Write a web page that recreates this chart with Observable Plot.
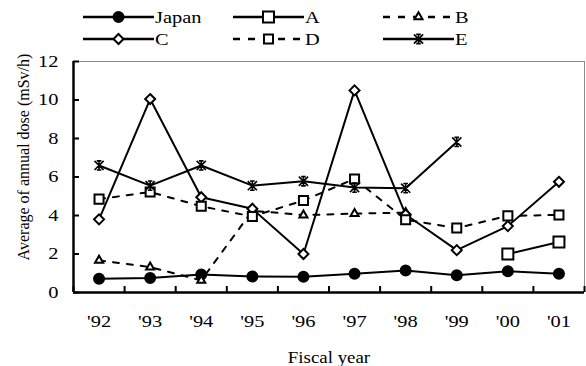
<!DOCTYPE html>
<html>
<head>
<meta charset="utf-8">
<script src="https://cdn.jsdelivr.net/npm/d3@7"></script>
<script src="https://cdn.jsdelivr.net/npm/@observablehq/plot@0.6"></script>
<style>
  body { margin: 0; background: #fff; }
  #wrap { position: relative; width: 586px; height: 366px; }
  #overlay { position: absolute; left: 0; top: 0; pointer-events: none; }
  #wrap svg text { font-family: "Liberation Serif", serif; }
</style>
</head>
<body>
<div id="wrap">
  <div id="chart"></div>
  <svg id="overlay" width="586" height="366"></svg>
</div>
<script>
// Fiscal years and their axis labels
const years = [1992, 1993, 1994, 1995, 1996, 1997, 1998, 1999, 2000, 2001];
const yearLabels = ["'92", "'93", "'94", "'95", "'96", "'97", "'98", "'99", "'00", "'01"];
const yTicks = [0, 2, 4, 6, 8, 10, 12];

// Average annual dose per site (null = no survey that year)
const japan   = [0.71, 0.75, 0.93, 0.83, 0.82, 0.98, 1.14, 0.89, 1.11, 0.98];
const seriesA = [null, null, null, null, null, null, null, null, 2.0, 2.62];
const seriesB = [1.67, 1.32, 0.63, 4.25, 4.02, 4.1, 4.15, null, null, null];
const seriesC = [3.8, 10.05, 4.95, 4.35, 2.0, 10.5, 4.05, 2.2, 3.45, 5.75];
const seriesD = [4.85, 5.22, 4.48, 3.95, 4.78, 5.9, 3.78, 3.35, 3.98, 4.03];
const seriesE = [6.6, 5.55, 6.6, 5.55, 5.78, 5.45, 5.42, 7.82, null, null];

// Star marker: an X crossed by a vertical stroke, with short caps
const starSymbol = {
  draw(ctx, size) {
    const r = Math.sqrt(size / Math.PI);
    ctx.moveTo(-r, -r); ctx.lineTo(r, r);
    ctx.moveTo(-r, r); ctx.lineTo(r, -r);
    ctx.moveTo(0, -r); ctx.lineTo(0, r);
    ctx.moveTo(-r * 0.5, -r); ctx.lineTo(r * 0.5, -r);
    ctx.moveTo(-r * 0.5, r); ctx.lineTo(r * 0.5, r);
  }
};

const series = [
  {name: "Japan", values: japan,   symbol: "circle",   r: 5,   fill: "#000", dash: null,  sw: 2},
  {name: "A",     values: seriesA, symbol: "square",   r: 6.2, fill: "#fff", dash: null,  sw: 2},
  {name: "B",     values: seriesB, symbol: "triangle", r: 3,   fill: "#fff", dash: "6,8", sw: 2},
  {name: "C",     values: seriesC, symbol: "diamond2", r: 4.5, fill: "#fff", dash: null,  sw: 2},
  {name: "D",     values: seriesD, symbol: "square",   r: 5.1, fill: "#fff", dash: "6,8", sw: 2},
  {name: "E",     values: seriesE, symbol: starSymbol, r: 4.6, fill: "none", dash: null,  sw: 1.6}
];

const rowsOf = s => years.map((year, i) => ({year, value: s.values[i]}));
const bounds = d3.range(years.length + 1).map(i => years[0] - 0.5 + i);

const marks = [];
for (const s of series) {
  marks.push(Plot.line(rowsOf(s), {
    x: "year", y: "value", stroke: "#000", strokeWidth: 2,
    strokeDasharray: s.dash
  }));
}
for (const s of series) {
  const rows = rowsOf(s).filter(d => d.value != null);
  marks.push(Plot.dot(rows, {
    x: "year", y: "value", symbol: () => s.symbol, r: s.r,
    fill: s.fill, stroke: "#000", strokeWidth: s.sw
  }));
}

const chart = Plot.plot({
  width: 586,
  height: 366,
  marginLeft: 73,
  marginRight: 2,
  marginTop: 61,
  marginBottom: 74,
  style: {fontFamily: "'Liberation Serif', serif", fontSize: "17px", color: "#000", background: "#fff"},
  symbol: {type: "identity"},
  x: {domain: [bounds[0], bounds[bounds.length - 1]]},
  y: {domain: [0, 12]},
  marks: [
    Plot.ruleY([12], {stroke: "#8a8a8a", strokeWidth: 1}),
    Plot.ruleX([bounds[bounds.length - 1]], {stroke: "#8a8a8a", strokeWidth: 1}),
    Plot.axisY({ticks: yTicks, tickSize: 0, tickPadding: 15, fontSize: 17, label: null}),
    Plot.axisY({ticks: yTicks, tickSize: -6, tickFormat: () => "", label: null, strokeWidth: 2}),
    Plot.axisX({ticks: years, tickSize: 0, tickPadding: 22, fontSize: 17,
      tickFormat: d => yearLabels[years.indexOf(d)],
      label: "Fiscal year", labelAnchor: "center", labelOffset: 70, labelArrow: "none"}),
    Plot.axisX({ticks: bounds, tickSize: -6, tickFormat: () => "", label: null, strokeWidth: 2}),
    Plot.ruleX([bounds[0]], {stroke: "#000", strokeWidth: 2.5}),
    Plot.ruleY([0], {stroke: "#000", strokeWidth: 2.5}),
    ...marks
  ]
});
document.getElementById("chart").appendChild(chart);

// The typeface runs wide horizontally; stretch the horizontal labels a little
function stretch(sel, factor) {
  sel.each(function () {
    if (!this.textContent) return;
    const w = this.getComputedTextLength();
    this.setAttribute("textLength", (w * factor).toFixed(1));
    this.setAttribute("lengthAdjust", "spacingAndGlyphs");
  });
}
const svg = d3.select(chart);
stretch(svg.selectAll("g[aria-label='x-axis tick label'] text, g[aria-label='y-axis tick label'] text"), 1.2);
stretch(svg.selectAll("g[aria-label='x-axis label'] text"), 1.11);

// Legend: two rows of three line+marker samples
const overlay = d3.select("#overlay");
const cols = [83, 233, 383];
const rowsY = [17, 39];
series.forEach((s, i) => {
  const x0 = cols[i % 3], y = rowsY[Math.floor(i / 3)];
  const w = 71;
  const g = overlay.append("g");
  g.append("line").attr("x1", x0).attr("x2", x0 + w).attr("y1", y).attr("y2", y)
    .attr("stroke", "#000").attr("stroke-width", 2.5)
    .attr("stroke-dasharray", s.dash ? "7,8" : null);
  const symType = typeof s.symbol === "string"
    ? {circle: d3.symbolCircle, square: d3.symbolSquare, triangle: d3.symbolTriangle, diamond2: d3.symbolDiamond2}[s.symbol]
    : s.symbol;
  g.append("path")
    .attr("d", d3.symbol(symType, s.r * s.r * Math.PI)())
    .attr("transform", `translate(${x0 + w / 2},${y})`)
    .attr("fill", s.fill).attr("stroke", "#000").attr("stroke-width", s.sw);
  g.append("text").attr("class", "legend-name")
    .attr("x", x0 + w + 1).attr("y", y).attr("dy", "0.35em")
    .attr("font-size", 17)
    .text(s.name);
});
stretch(overlay.selectAll("text.legend-name"), 1.2);

// Rotated y-axis title, left of the tick labels
overlay.append("text")
  .attr("transform", "translate(24,157) rotate(-90)")
  .attr("text-anchor", "middle")
  .attr("dy", "0.32em")
  .attr("font-size", 16)
  .attr("fill", "#000")
  .text("Average of annual dose (mSv/h)");
</script>
</body>
</html>
